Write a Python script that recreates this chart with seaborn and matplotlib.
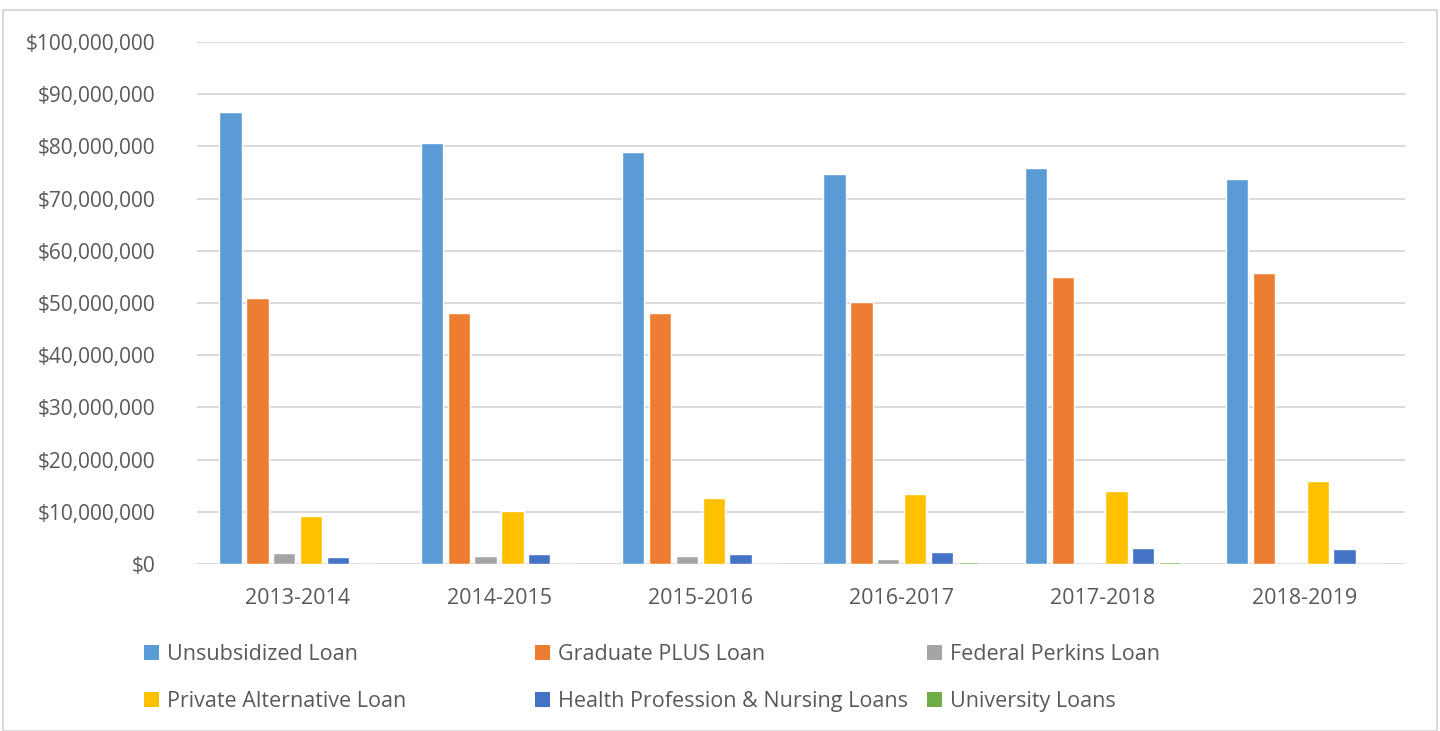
import matplotlib
matplotlib.use("Agg")
import matplotlib.pyplot as plt
from matplotlib.patches import Rectangle
from matplotlib.ticker import FuncFormatter, MultipleLocator
import seaborn as sns
import pandas as pd

years = ["2013-2014", "2014-2015", "2015-2016", "2016-2017", "2017-2018", "2018-2019"]
loan_types = ["Unsubsidized Loan", "Graduate PLUS Loan", "Federal Perkins Loan",
              "Private Alternative Loan", "Health Profession & Nursing Loans", "University Loans"]

unsubsidized = [86.5e6, 80.7e6, 78.9e6, 74.8e6, 75.9e6, 73.8e6]
grad_plus = [51.0e6, 48.1e6, 48.1e6, 50.2e6, 54.9e6, 55.7e6]
perkins = [2.2e6, 1.6e6, 1.6e6, 0.9e6, 0.0, 0.0]
private_alt = [9.1e6, 10.2e6, 12.6e6, 13.5e6, 14.0e6, 15.9e6]
health_nursing = [1.4e6, 2.0e6, 2.0e6, 2.3e6, 3.0e6, 2.8e6]
university = [0.0, 0.0, 0.0, 0.4e6, 0.4e6, 0.0]

colors = ["#5B9BD5", "#ED7D31", "#A5A5A5", "#FFC000", "#4472C4", "#70AD47"]

series = [unsubsidized, grad_plus, perkins, private_alt, health_nursing, university]
rows = []
for name, vals in zip(loan_types, series):
    for yr, v in zip(years, vals):
        rows.append({"year": yr, "loan": name, "amount": v})
df = pd.DataFrame(rows)

sns.set_theme(style="white")
plt.rcParams["font.family"] = ["Open Sans", "DejaVu Sans"]

fig = plt.figure(figsize=(14.4, 7.31), dpi=100)
ax = fig.add_axes([197 / 1440, 1 - 564 / 731, (1405 - 197) / 1440, (564 - 42) / 731])

sns.barplot(data=df, x="year", y="amount", hue="loan", hue_order=loan_types,
            palette=colors, width=0.8, gap=0.17, legend=False, ax=ax,
            saturation=1, errorbar=None)

ax.set_ylim(0, 100e6)
ax.set_xlim(-0.5, len(years) - 0.5)
ax.yaxis.set_major_locator(MultipleLocator(10e6))
ax.yaxis.set_major_formatter(FuncFormatter(lambda v, p: f"${v:,.0f}"))
ax.grid(axis="y", color="#D9D9D9", linewidth=1.4)
ax.set_axisbelow(True)
for s in ax.spines.values():
    s.set_visible(False)
ax.set_xlabel("")
ax.set_ylabel("")
ax.tick_params(axis="y", length=0, pad=30, labelsize=15, labelcolor="#595959")
ax.tick_params(axis="x", length=0, pad=17, labelsize=15.5, labelcolor="#595959")

# legend: three columns placed like Excel
handles = [Rectangle((0, 0), 1, 1, facecolor=c, edgecolor="none") for c in colors]
col_x = [144 / 1440, 535 / 1440, 927 / 1440]
for ci in range(3):
    hs = [handles[ci], handles[ci + 3]]
    ls = [loan_types[ci], loan_types[ci + 3]]
    fig.legend(hs, ls, loc="upper left", bbox_to_anchor=(col_x[ci], 1 - 644 / 731),
               frameon=False, fontsize=15.5, labelcolor="#595959",
               handlelength=0.68, handleheight=0.68, handletextpad=0.4,
               labelspacing=1.2, borderaxespad=0, borderpad=0)

fig.patches.append(Rectangle((3 / 1440, 0), 1434 / 1440, 1 - 10 / 731,
                             transform=fig.transFigure, fill=False,
                             edgecolor="#D9D9D9", linewidth=1.5))

fig.savefig("out.png", dpi=100)
